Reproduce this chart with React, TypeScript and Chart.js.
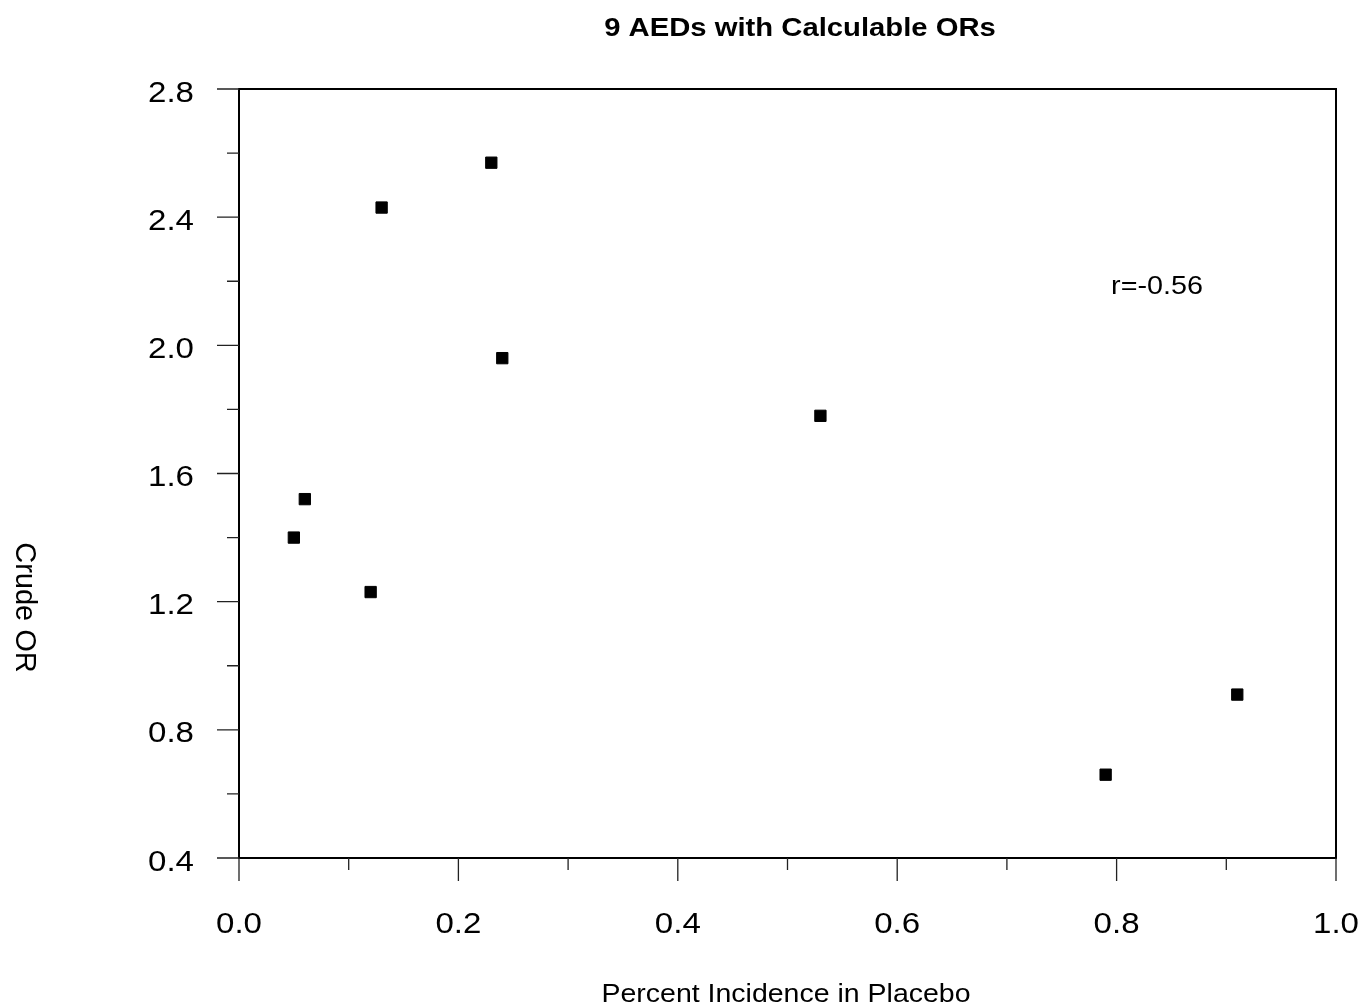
import React, { useEffect, useRef } from "react";
import { Chart, registerables } from "chart.js";

Chart.register(...registerables);

const chartTitle = "9 AEDs with Calculable ORs";
const xAxisTitle = "Percent Incidence in Placebo";
const yAxisTitle = "Crude OR";
const annotationText = "r=-0.56";
const annotationX = 0.795;
const annotationY = 2.16;

const xValues = [0.05, 0.06, 0.12, 0.13, 0.23, 0.24, 0.53, 0.79, 0.91];
const yValues = [1.4, 1.52, 1.23, 2.43, 2.57, 1.96, 1.78, 0.66, 0.91];

const xMajorTicks = [0.0, 0.2, 0.4, 0.6, 0.8, 1.0];
const xMinorTicks = [0.1, 0.3, 0.5, 0.7, 0.9];
const yMajorTicks = [0.4, 0.8, 1.2, 1.6, 2.0, 2.4, 2.8];
const yMinorTicks = [0.6, 1.0, 1.4, 1.8, 2.2, 2.6];

const FONT = "'Liberation Sans', Arial, Helvetica, sans-serif";

function stretchedText(
  ctx: CanvasRenderingContext2D,
  text: string,
  x: number,
  y: number,
  font: string,
  align: CanvasTextAlign,
  sx: number
) {
  ctx.save();
  ctx.font = font;
  ctx.textAlign = align;
  ctx.textBaseline = "alphabetic";
  ctx.fillStyle = "#000";
  ctx.translate(x, y);
  ctx.scale(sx, 1);
  ctx.fillText(text, 0, 0);
  ctx.restore();
}

const framePlugin = {
  id: "framePlugin",
  afterDraw(chart: any) {
    const ctx: CanvasRenderingContext2D = chart.ctx;
    const { left, right, top, bottom } = chart.chartArea;
    const xs = chart.scales.x;
    const ys = chart.scales.y;

    ctx.save();
    // frame
    ctx.strokeStyle = "#000";
    ctx.lineWidth = 2;
    ctx.strokeRect(left, top, right - left, bottom - top);

    // ticks
    ctx.lineWidth = 1.3;
    ctx.strokeStyle = "#222";
    ctx.beginPath();
    xMajorTicks.forEach((v) => {
      const px = xs.getPixelForValue(v);
      ctx.moveTo(px, bottom);
      ctx.lineTo(px, bottom + 23);
    });
    xMinorTicks.forEach((v) => {
      const px = xs.getPixelForValue(v);
      ctx.moveTo(px, bottom);
      ctx.lineTo(px, bottom + 12);
    });
    yMajorTicks.forEach((v) => {
      const py = ys.getPixelForValue(v);
      ctx.moveTo(left, py);
      ctx.lineTo(left - 22, py);
    });
    yMinorTicks.forEach((v) => {
      const py = ys.getPixelForValue(v);
      ctx.moveTo(left, py);
      ctx.lineTo(left - 12, py);
    });
    ctx.stroke();
    ctx.restore();

    // tick labels
    const tickFont = `29px ${FONT}`;
    xMajorTicks.forEach((v) => {
      const px = xs.getPixelForValue(v);
      stretchedText(ctx, v.toFixed(1), px, bottom + 75, tickFont, "center", 1.14);
    });
    yMajorTicks.forEach((v) => {
      const py = ys.getPixelForValue(v);
      stretchedText(ctx, v.toFixed(1), left - 45, py + 12.5, tickFont, "right", 1.14);
    });

    // title
    stretchedText(ctx, chartTitle, 800, 36, `bold 25px ${FONT}`, "center", 1.17);
    // x axis title
    stretchedText(ctx, xAxisTitle, 786, 1002, `25px ${FONT}`, "center", 1.14);
    // annotation
    stretchedText(
      ctx,
      annotationText,
      xs.getPixelForValue(annotationX),
      ys.getPixelForValue(annotationY),
      `25px ${FONT}`,
      "left",
      1.15
    );
    // y axis title (rotated)
    ctx.save();
    ctx.font = `29px ${FONT}`;
    ctx.fillStyle = "#000";
    ctx.textAlign = "center";
    ctx.textBaseline = "alphabetic";
    ctx.translate(16, 607.5);
    ctx.rotate(Math.PI / 2);
    ctx.fillText(yAxisTitle, 0, 0);
    ctx.restore();
  },
};

export default function App() {
  const canvasRef = useRef<HTMLCanvasElement | null>(null);

  useEffect(() => {
    document.body.style.margin = "0";
    const canvas = canvasRef.current;
    if (!canvas) return;
    const chart = new Chart(canvas, {
      type: "scatter",
      data: {
        datasets: [
          {
            label: "Crude OR",
            data: xValues.map((x, i) => ({ x, y: yValues[i] })),
            pointStyle: "rect",
            pointRadius: 8,
            pointHoverRadius: 8,
            backgroundColor: "#000",
            borderColor: "#000",
            borderWidth: 1,
          },
        ],
      },
      options: {
        responsive: false,
        maintainAspectRatio: false,
        animation: false,
        devicePixelRatio: 1,
        layout: { padding: { left: 239, right: 28, top: 89, bottom: 150 } },
        plugins: {
          legend: { display: false },
          title: { display: false },
          tooltip: { enabled: false },
        },
        scales: {
          x: { type: "linear", display: false, min: 0, max: 1 },
          y: { type: "linear", display: false, min: 0.4, max: 2.8 },
        },
      },
      plugins: [framePlugin],
    });
    return () => chart.destroy();
  }, []);

  return (
    <div style={{ position: "fixed", left: 0, top: 0, width: 1364, height: 1008, background: "#fff" }}>
      <canvas ref={canvasRef} width={1364} height={1008} />
    </div>
  );
}
